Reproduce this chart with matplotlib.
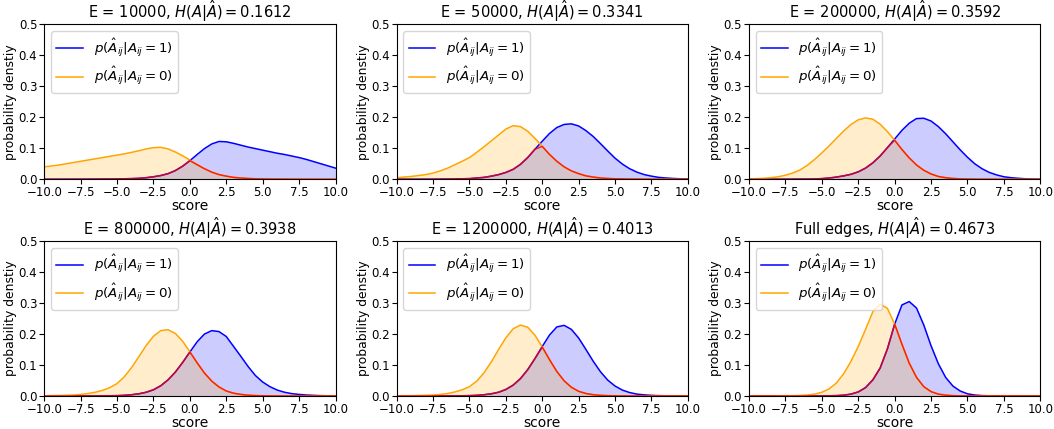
import numpy as np
import matplotlib
matplotlib.use("Agg")
import matplotlib.pyplot as plt

# score grid (step 0.5 from -10 to 10)
score = np.arange(-10, 10.01, 0.5)

titles = [
    r"E = 10000, $H(A|\hat{A}) = 0.1612$",
    r"E = 50000, $H(A|\hat{A}) = 0.3341$",
    r"E = 200000, $H(A|\hat{A}) = 0.3592$",
    r"E = 800000, $H(A|\hat{A}) = 0.3938$",
    r"E = 1200000, $H(A|\hat{A}) = 0.4013$",
    r"Full edges, $H(A|\hat{A}) = 0.4673$",
]

# density of positive edges, p(Â|A=1)
pos_e10k = [0.0, 0.0, 0.0, 0.0001, 0.0001, 0.0002, 0.0003, 0.0004, 0.0006, 0.0008,
            0.001, 0.0015, 0.002, 0.003, 0.005, 0.008, 0.012, 0.018, 0.028, 0.042,
            0.060, 0.080, 0.099, 0.114, 0.122, 0.121, 0.116, 0.110, 0.104, 0.099,
            0.094, 0.089, 0.084, 0.080, 0.075, 0.070, 0.064, 0.057, 0.050, 0.043, 0.036]
pos_e50k = [0.0, 0.0, 0.0, 0.0, 0.0001, 0.0002, 0.0004, 0.0006, 0.001, 0.0015,
            0.002, 0.004, 0.006, 0.010, 0.015, 0.022, 0.032, 0.048, 0.070, 0.097,
            0.123, 0.148, 0.167, 0.177, 0.179, 0.172, 0.157, 0.138, 0.115, 0.091,
            0.068, 0.049, 0.034, 0.023, 0.015, 0.010, 0.006, 0.004, 0.0025, 0.0015, 0.001]
pos_e200k = [0.0, 0.0, 0.0, 0.0, 0.0001, 0.0002, 0.0003, 0.0004, 0.0005, 0.001,
             0.002, 0.004, 0.007, 0.011, 0.016, 0.024, 0.036, 0.053, 0.075, 0.102,
             0.130, 0.158, 0.181, 0.196, 0.197, 0.188, 0.170, 0.147, 0.121, 0.095,
             0.071, 0.050, 0.034, 0.022, 0.014, 0.008, 0.005, 0.003, 0.0015, 0.0008, 0.0004]
pos_e800k = [0.0, 0.0, 0.0, 0.0, 0.0, 0.0001, 0.0001, 0.0002, 0.0003, 0.0006,
             0.001, 0.002, 0.004, 0.007, 0.012, 0.020, 0.033, 0.052, 0.077, 0.108,
             0.142, 0.175, 0.200, 0.211, 0.208, 0.192, 0.160, 0.128, 0.095, 0.066,
             0.045, 0.030, 0.019, 0.012, 0.0075, 0.005, 0.003, 0.002, 0.001, 0.0005, 0.0003]
pos_e1200k = [0.0, 0.0, 0.0, 0.0, 0.0, 0.0, 0.0, 0.0001, 0.0002, 0.0005,
              0.001, 0.002, 0.004, 0.007, 0.012, 0.021, 0.035, 0.056, 0.085, 0.121,
              0.160, 0.197, 0.223, 0.228, 0.215, 0.187, 0.150, 0.112, 0.078, 0.051,
              0.032, 0.019, 0.011, 0.006, 0.0035, 0.002, 0.001, 0.0006, 0.0003, 0.0002, 0.0001]
pos_full = [0.0, 0.0, 0.0, 0.0, 0.0, 0.0, 0.0, 0.0, 0.0, 0.0,
            0.0002, 0.0005, 0.001, 0.0025, 0.006, 0.013, 0.027, 0.052, 0.090, 0.152,
            0.232, 0.294, 0.305, 0.284, 0.229, 0.162, 0.104, 0.060, 0.032, 0.016,
            0.007, 0.003, 0.0012, 0.0005, 0.0002, 0.0, 0.0, 0.0, 0.0, 0.0, 0.0]

# density of negative edges, p(Â|A=0)
neg_e10k = [0.040, 0.043, 0.046, 0.050, 0.054, 0.058, 0.062, 0.066, 0.070, 0.074,
            0.078, 0.082, 0.087, 0.092, 0.098, 0.102, 0.103, 0.098, 0.088, 0.076,
            0.062, 0.047, 0.034, 0.023, 0.015, 0.010, 0.006, 0.004, 0.0025, 0.0015,
            0.001, 0.0007, 0.0005, 0.0004, 0.0003, 0.0002, 0.0002, 0.0001, 0.0001, 0.0001, 0.0001]
neg_e50k = [0.005, 0.007, 0.009, 0.012, 0.015, 0.020, 0.027, 0.036, 0.047, 0.058,
            0.070, 0.087, 0.105, 0.124, 0.143, 0.162, 0.173, 0.170, 0.155, 0.132,
            0.106, 0.080, 0.058, 0.040, 0.027, 0.018, 0.011, 0.007, 0.004, 0.0025,
            0.0015, 0.001, 0.0007, 0.0005, 0.0003, 0.0002, 0.0001, 0.0001, 0.0, 0.0, 0.0]
neg_e200k = [0.001, 0.002, 0.003, 0.005, 0.008, 0.013, 0.020, 0.030, 0.045, 0.064,
             0.085, 0.108, 0.132, 0.156, 0.177, 0.192, 0.198, 0.194, 0.178, 0.154,
             0.126, 0.096, 0.069, 0.046, 0.029, 0.017, 0.009, 0.005, 0.0025, 0.0012,
             0.0006, 0.0003, 0.0001, 0.0001, 0.0, 0.0, 0.0, 0.0, 0.0, 0.0, 0.0]
neg_e800k = [0.0005, 0.001, 0.0015, 0.002, 0.003, 0.005, 0.008, 0.012, 0.018, 0.027,
             0.040, 0.062, 0.092, 0.127, 0.163, 0.193, 0.211, 0.214, 0.202, 0.177,
             0.143, 0.107, 0.074, 0.048, 0.029, 0.016, 0.009, 0.005, 0.0025, 0.0012,
             0.0006, 0.0003, 0.0001, 0.0, 0.0, 0.0, 0.0, 0.0, 0.0, 0.0, 0.0]
neg_e1200k = [0.0003, 0.0005, 0.0008, 0.0012, 0.002, 0.003, 0.005, 0.008, 0.013, 0.020,
              0.030, 0.048, 0.075, 0.110, 0.150, 0.188, 0.217, 0.229, 0.222, 0.196,
              0.158, 0.117, 0.079, 0.049, 0.028, 0.015, 0.008, 0.004, 0.002, 0.001,
              0.0005, 0.0002, 0.0001, 0.0, 0.0, 0.0, 0.0, 0.0, 0.0, 0.0, 0.0]
neg_full = [0.0, 0.0, 0.0, 0.0, 0.0002, 0.0004, 0.0008, 0.0015, 0.003, 0.006,
            0.012, 0.023, 0.042, 0.072, 0.112, 0.160, 0.215, 0.272, 0.297, 0.283,
            0.232, 0.167, 0.106, 0.060, 0.030, 0.014, 0.006, 0.0025, 0.001, 0.0004,
            0.0002, 0.0, 0.0, 0.0, 0.0, 0.0, 0.0, 0.0, 0.0, 0.0, 0.0]

pos_list = [pos_e10k, pos_e50k, pos_e200k, pos_e800k, pos_e1200k, pos_full]
neg_list = [neg_e10k, neg_e50k, neg_e200k, neg_e800k, neg_e1200k, neg_full]

xticks = [-10.0, -7.5, -5.0, -2.5, 0.0, 2.5, 5.0, 7.5, 10.0]
yticks = [0.0, 0.1, 0.2, 0.3, 0.4, 0.5]

fig, axes = plt.subplots(2, 3, figsize=(10.54, 4.29), dpi=100)
fig.subplots_adjust(left=0.042, right=0.987, top=0.943, bottom=0.077,
                    wspace=0.21, hspace=0.40)

for ax, title, pos, neg in zip(axes.flat, titles, pos_list, neg_list):
    pos = np.array(pos)
    neg = np.array(neg)
    ax.plot(score, pos, color="blue", lw=1.1, label=r"$p(\hat{A}_{ij}|A_{ij}=1)$")
    ax.fill_between(score, pos, color="blue", alpha=0.2, lw=0)
    ax.plot(score, neg, color="orange", lw=1.1, label=r"$p(\hat{A}_{ij}|A_{ij}=0)$")
    ax.fill_between(score, neg, color="orange", alpha=0.2, lw=0)
    ax.plot(score, np.minimum(pos, neg), color="red", lw=1.1, alpha=0.8)
    ax.set_xlim(-10, 10)
    ax.set_ylim(0, 0.5)
    ax.set_xticks(xticks)
    ax.set_yticks(yticks)
    ax.tick_params(labelsize=8.5, length=3.5, pad=1.5)
    ax.set_title(title, fontsize=10.5, pad=0.5)
    ax.set_xlabel("score", fontsize=10, labelpad=0)
    ax.set_ylabel("probability denstiy", fontsize=8.9, labelpad=1)
    ax.legend(loc="upper left", fontsize=9.6)

fig.savefig("out.png", dpi=100)
